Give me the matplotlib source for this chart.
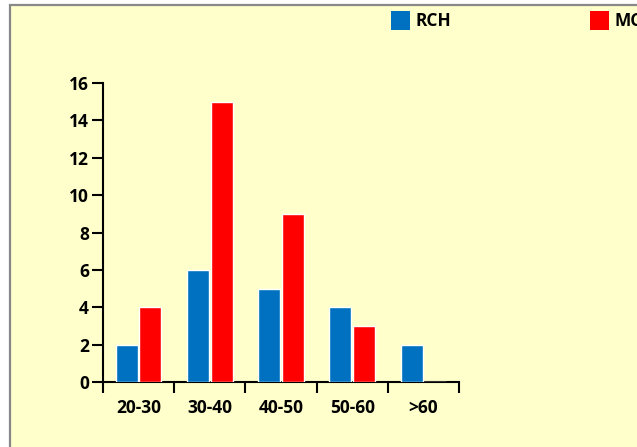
import matplotlib
matplotlib.use("Agg")
import matplotlib.pyplot as plt
from matplotlib.patches import Rectangle
import numpy as np

categories = ["20-30", "30-40", "40-50", "50-60", ">60"]
rch = [2, 6, 5, 4, 2]
mc = [4, 15, 9, 3, 0]
series_names = ["RCH", "MCH"]
yticks = [0, 2, 4, 6, 8, 10, 12, 14, 16]

plt.rcParams['font.family'] = ['Open Sans', 'DejaVu Sans']
plt.rcParams['font.weight'] = 'bold'

W, H = 637, 447
fig = plt.figure(figsize=(W / 100, H / 100), dpi=100)
fig.patch.set_facecolor("white")

# background panel with gray border (top/left visible)
bg = Rectangle((9.5 / W, -0.1), 1.2, 1.1 - 5.5 / H,
               transform=fig.transFigure, facecolor="#FFFFCC",
               edgecolor="#888888", linewidth=1.6, zorder=-10)
fig.patches.append(bg)

ax = fig.add_axes([103 / W, 1 - 382 / H, (459 - 103) / W, (382 - 83) / H])
ax.set_facecolor("none")
ax.set_zorder(2)

blue = "#0070C0"
red = "#FF0000"
x = np.arange(len(categories)) + 0.5
bw = 0.31
ax.bar(x - bw / 2 - 0.01, rch, width=bw, color=blue, edgecolor="white", linewidth=1.0, zorder=3)
ax.bar(x + bw / 2 + 0.01, mc, width=bw, color=red, edgecolor="white", linewidth=1.0, zorder=3)

ax.set_xlim(0, len(categories))
ax.set_ylim(0, 16)
ax.set_yticks(yticks)
ax.set_yticklabels([str(v) for v in yticks], fontsize=12.5, fontweight="bold")

ax.set_xticks(np.arange(len(categories) + 1))
ax.set_xticklabels([])
ax.set_xticks(x, minor=True)
ax.set_xticklabels(categories, minor=True, fontsize=12.5, fontweight="bold")
ax.tick_params(axis="x", which="major", direction="out", length=8, width=1.5, color="black")
ax.tick_params(axis="x", which="minor", length=0, pad=12)
ax.tick_params(axis="y", direction="out", length=8, width=1.5, pad=2)

for s in ["top", "right"]:
    ax.spines[s].set_visible(False)
for s in ["left", "bottom"]:
    ax.spines[s].set_linewidth(1.5)
    ax.spines[s].set_color("black")

# legend (top, partly cut off at right as in the reference)
fig.patches.append(Rectangle((391 / W, 1 - 30 / H), 19 / W, 19 / H, transform=fig.transFigure,
                             facecolor=blue, edgecolor="none", zorder=5))
fig.text(415 / W, 1 - 21 / H, series_names[0], fontsize=12.5, fontweight="bold", va="center", ha="left")
fig.patches.append(Rectangle((590 / W, 1 - 30 / H), 19 / W, 19 / H, transform=fig.transFigure,
                             facecolor=red, edgecolor="none", zorder=5))
fig.text(614 / W, 1 - 21 / H, series_names[1], fontsize=12.5, fontweight="bold", va="center", ha="left")

fig.savefig("out.png", dpi=100)
